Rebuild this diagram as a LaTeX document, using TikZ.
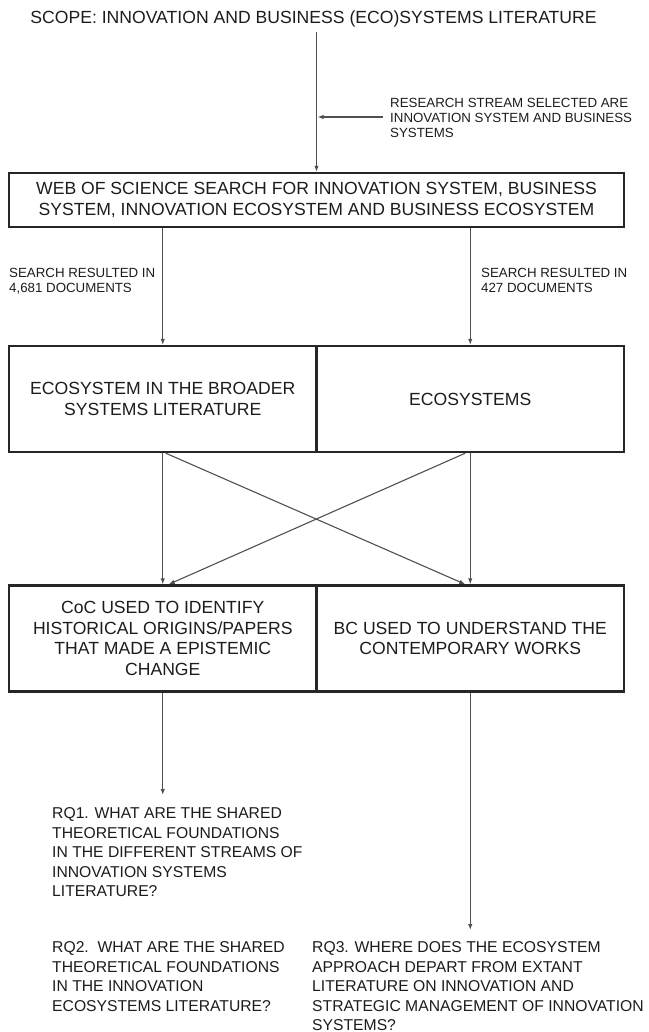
\documentclass[tikz,border=0pt]{standalone}
\usepackage{fontspec}
\setmainfont{Liberation Sans}
\usetikzlibrary{arrows.meta}
\definecolor{ink}{HTML}{1E1B1C}
\definecolor{edgec}{HTML}{262626}
\definecolor{connc}{HTML}{505050}
\newcommand\bxfont{\fontsize{17.6}{20.5}\selectfont}
\newcommand\lblfont{\fontsize{13.3}{15}\selectfont}
\newcommand\rqfont{\fontsize{15.7}{19.5}\selectfont}
\begin{document}
\begin{tikzpicture}[x=1pt,y=-1pt,
  boxnode/.style={draw=edgec, line width=2.4pt, inner sep=0pt, align=center, font=\bxfont, text=ink},
  halfbox/.style={boxnode, minimum width=307.5pt, minimum height=106pt},
  lbl/.style={anchor=north west, inner sep=0pt, align=left, font=\lblfont, text=ink},
  rq/.style={anchor=north west, inner sep=0pt, align=left, font=\rqfont, text=ink},
  conn/.style={draw=connc, line width=1.1pt},
  arr/.style={conn, -{Latex[length=6pt,width=4.5pt]}}]
\useasboundingbox (0,0) rectangle (648,1032);

% title
\node[anchor=base, inner sep=0pt, font=\bxfont, text=ink] (title) at (313.5,23.2)
  {SCOPE: INNOVATION AND BUSINESS (ECO)SYSTEMS LITERATURE};

% boxes
\node[boxnode, minimum width=615pt, minimum height=54pt] (web) at (316.5,200)
  {WEB OF SCIENCE SEARCH FOR INNOVATION SYSTEM, BUSINESS\\SYSTEM, INNOVATION ECOSYSTEM AND BUSINESS ECOSYSTEM};
\node[halfbox] (broad) at (162.75,399) {ECOSYSTEM IN THE BROADER\\SYSTEMS LITERATURE};
\node[halfbox] (eco) at (470.25,399) {ECOSYSTEMS};
\node[halfbox] (coc) at (162.75,638.5) {CoC USED TO IDENTIFY\\HISTORICAL ORIGINS/PAPERS\\THAT MADE A EPISTEMIC\\CHANGE};
\node[halfbox] (bc) at (470.25,638.5) {BC USED TO UNDERSTAND THE\\CONTEMPORARY WORKS};

% labels
\node[lbl] (stream) at (390,98.2) {RESEARCH STREAM SELECTED ARE\\INNOVATION SYSTEM AND BUSINESS\\SYSTEMS};
\node[lbl] (resL) at (9,268.2) {SEARCH RESULTED IN\\4,681 DOCUMENTS};
\node[lbl] (resR) at (481,268.2) {SEARCH RESULTED IN\\427 DOCUMENTS};

% research questions
\node[rq] (rq1) at (52,807.4) {RQ1. WHAT ARE THE SHARED\\THEORETICAL FOUNDATIONS\\IN THE DIFFERENT STREAMS OF\\INNOVATION SYSTEMS\\LITERATURE?};
\node[rq] (rq2) at (52,941.4) {RQ2.\ \ WHAT ARE THE SHARED\\THEORETICAL FOUNDATIONS\\IN THE INNOVATION\\ECOSYSTEMS LITERATURE?};
\node[rq] (rq3) at (312,941.4) {RQ3. WHERE DOES THE ECOSYSTEM\\APPROACH DEPART FROM EXTANT\\LITERATURE ON INNOVATION AND\\STRATEGIC MANAGEMENT OF INNOVATION\\SYSTEMS?};

% coordinates
\coordinate (top) at (316.5,32);
\coordinate (joint) at (317.5,117);
\coordinate (sidestart) at (383,117);
\coordinate (end1) at (162.75,795);
\coordinate (end3) at (470.25,930);

% connectors
\draw[arr] (top) -- (web.north);
\draw[arr] (sidestart) -- (joint);
\draw[arr] (web.south -| broad.north) -- (broad.north);
\draw[arr] (web.south -| eco.north) -- (eco.north);
\draw[arr] (broad.south) -- (coc.north);
\draw[arr] (eco.south) -- (bc.north);
\draw[arr] ([xshift=3pt]broad.south) -- ([xshift=-5pt]bc.north);
\draw[arr] ([xshift=-5pt]eco.south) -- ([xshift=6pt]coc.north);
\draw[arr] (coc.south) -- (end1);
\draw[arr] (bc.south) -- (end3);
\end{tikzpicture}
\end{document}
